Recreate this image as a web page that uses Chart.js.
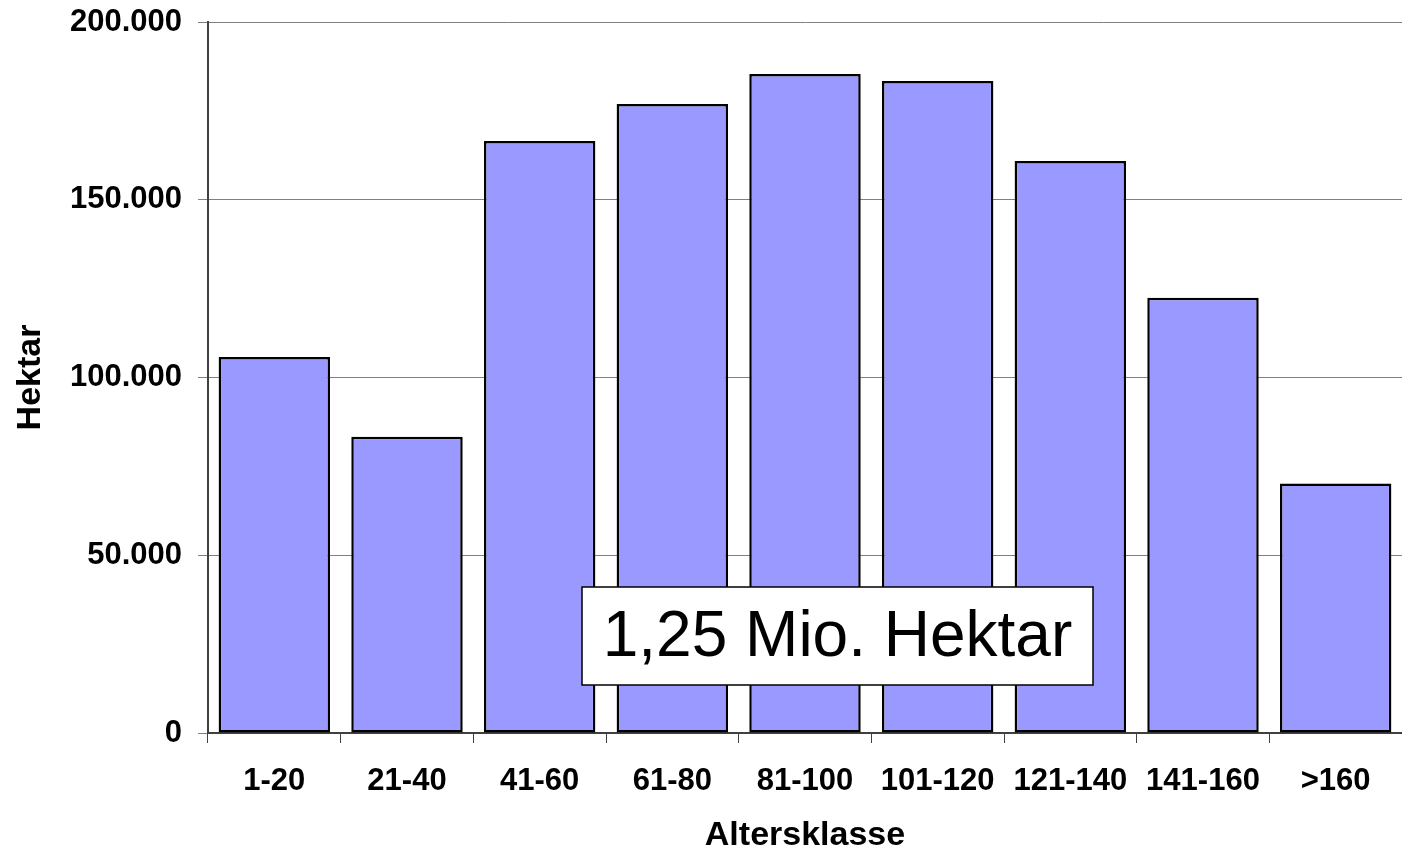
<!DOCTYPE html>
<html>
<head>
<meta charset="utf-8">
<script src="https://cdn.jsdelivr.net/npm/chart.js@4/dist/chart.umd.min.js"></script>
<style>
  html, body { margin: 0; padding: 0; background: #fff; }
  #wrap { width: 1402px; height: 860px; position: relative; }
</style>
</head>
<body>
<div id="wrap"><canvas id="chart"></canvas></div>
<script>
const categories = ['1-20', '21-40', '41-60', '61-80', '81-100', '101-120', '121-140', '141-160', '>160'];
const hektar = [105800, 83300, 166500, 176900, 185400, 183400, 160900, 122400, 70200];
const yTicks = [0, 50000, 100000, 150000, 200000];
const totalLabel = '1,25 Mio. Hektar';
const yTitle = 'Hektar';
const xTitle = 'Altersklasse';

const FONT = "'Liberation Sans', Arial, sans-serif";

function fmt(v) {
    return String(v).replace(/\B(?=(\d{3})+(?!\d))/g, '.');
}

// text box over the bars
const totalBox = {
    id: 'totalBox',
    afterDatasetsDraw(chart) {
        const { ctx, chartArea } = chart;
        const x = chartArea.left + 374, y = chartArea.bottom - 146, w = 511, h = 98;
        ctx.save();
        ctx.fillStyle = '#fff';
        ctx.fillRect(x, y, w, h);
        ctx.strokeStyle = '#000';
        ctx.lineWidth = 1.5;
        ctx.strokeRect(x, y, w, h);
        ctx.fillStyle = '#000';
        ctx.font = `64px ${FONT}`;
        ctx.textAlign = 'center';
        ctx.textBaseline = 'middle';
        ctx.fillText(totalLabel, x + w / 2, y + h / 2 + 2);
        ctx.restore();
    }
};

const ctx = document.getElementById('chart').getContext('2d');
new Chart(ctx, {
    type: 'bar',
    data: {
        labels: categories,
        datasets: [{
            data: hektar,
            backgroundColor: '#9999FF',
            borderColor: '#000',
            borderWidth: 2.5,
            borderSkipped: false,
            categoryPercentage: 1,
            barPercentage: 0.84
        }]
    },
    options: {
        responsive: true, maintainAspectRatio: false, animation: false,
        layout: { padding: { top: 22, right: 0, left: 0, bottom: 0 } },
        plugins: { legend: { display: false }, tooltip: { enabled: false } },
        scales: {
            x: {
                afterFit: s => { s.height = 127; s.paddingLeft = 0; s.paddingRight = 0; },
                grid: { drawOnChartArea: false, offset: true, tickLength: 10, color: '#404040', lineWidth: 1 },
                border: { color: '#404040', width: 2 },
                ticks: { color: '#000', padding: 20, font: { family: FONT, size: 31, weight: 'bold' }, maxRotation: 0 },
                title: { display: true, text: xTitle, color: '#000', padding: { bottom: 7, top: 0 },
                         font: { family: FONT, size: 34, weight: 'bold', lineHeight: 1 } }
            },
            y: {
                min: 0, max: 200000,
                afterFit: s => { s.width = 208; s.paddingTop = 0; s.paddingBottom = 0; },
                afterBuildTicks: s => { s.ticks = yTicks.map(v => ({ value: v })); },
                grid: { color: '#808080', lineWidth: 1, tickLength: 10 },
                border: { color: '#404040', width: 2 },
                ticks: { color: '#000', padding: 16, callback: v => fmt(v),
                         font: { family: FONT, size: 31, weight: 'bold' } },
                title: { display: true, text: yTitle, color: '#000', padding: { top: 14, bottom: 0 },
                         font: { family: FONT, size: 34, weight: 'bold', lineHeight: 1 } }
            }
        }
    },
    plugins: [totalBox]
});
</script>
</body>
</html>
